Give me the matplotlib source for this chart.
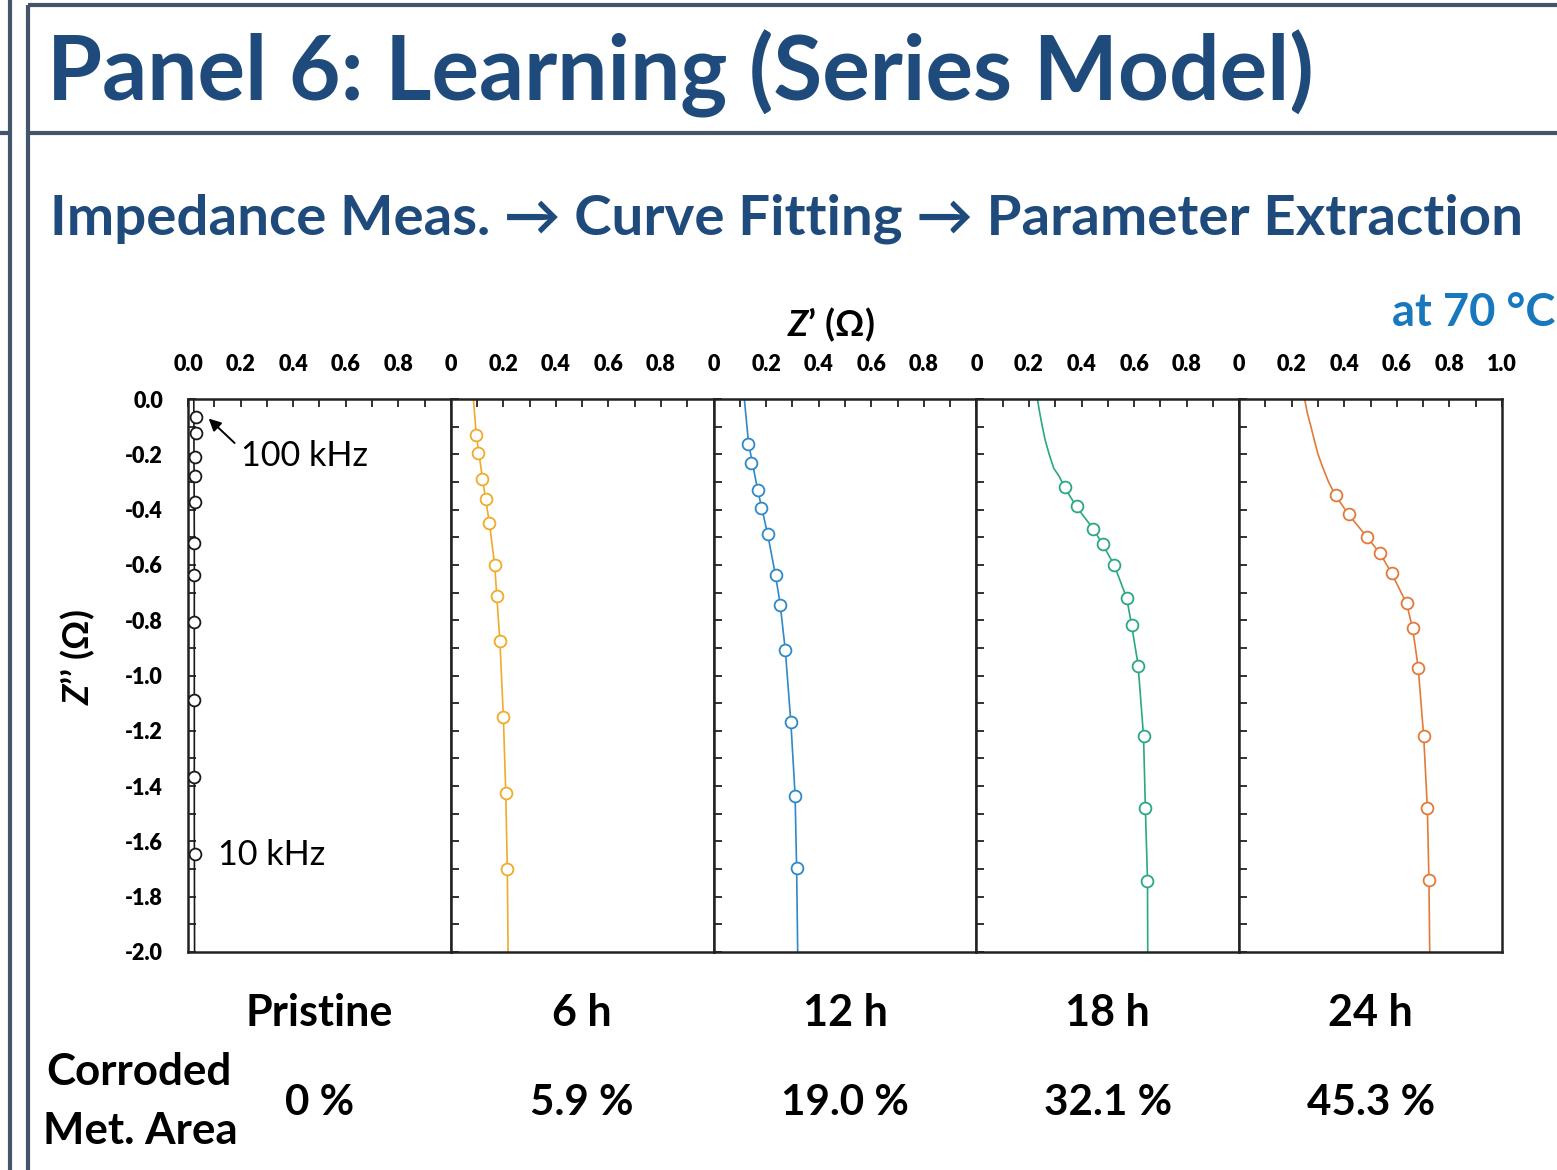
import matplotlib
matplotlib.use("Agg")
import matplotlib.pyplot as plt
from matplotlib.lines import Line2D
from matplotlib.ticker import MultipleLocator, FixedLocator, FixedFormatter

plt.rcParams['font.family'] = ['Lato', 'DejaVu Sans']
plt.rcParams['mathtext.fontset'] = 'custom'
plt.rcParams['mathtext.it'] = 'Lato:italic:bold'
plt.rcParams['mathtext.rm'] = 'Lato:bold'
plt.rcParams['mathtext.bf'] = 'Lato:bold'

# ---- data ----
samples  = ["Pristine", "6 h", "12 h", "18 h", "24 h"]
corroded = ["0 %", "5.9 %", "19.0 %", "32.1 %", "45.3 %"]
colors   = ["#1a1a1a", "#F0AA2C", "#2F88C8", "#2AA784", "#E27A3A"]

# measured points (Z', Z'')
pristine_re = [0.030, 0.032, 0.028, 0.025, 0.025, 0.023, 0.024, 0.022, 0.022, 0.023, 0.026]
pristine_im = [-0.064, -0.124, -0.211, -0.278, -0.371, -0.520, -0.637, -0.808, -1.089, -1.368, -1.647]
h6_re  = [0.095, 0.104, 0.120, 0.133, 0.146, 0.167, 0.175, 0.186, 0.200, 0.209, 0.215]
h6_im  = [-0.129, -0.197, -0.291, -0.360, -0.450, -0.599, -0.713, -0.876, -1.150, -1.424, -1.699]
h12_re = [0.132, 0.142, 0.168, 0.180, 0.206, 0.236, 0.253, 0.273, 0.294, 0.310, 0.316]
h12_im = [-0.164, -0.233, -0.329, -0.394, -0.490, -0.637, -0.744, -0.907, -1.169, -1.434, -1.697]
h18_re = [0.336, 0.381, 0.445, 0.483, 0.524, 0.572, 0.591, 0.615, 0.636, 0.643, 0.651]
h18_im = [-0.320, -0.387, -0.470, -0.526, -0.601, -0.721, -0.816, -0.964, -1.217, -1.481, -1.744]
h24_re = [0.367, 0.418, 0.487, 0.537, 0.580, 0.637, 0.660, 0.681, 0.702, 0.716, 0.722]
h24_im = [-0.348, -0.417, -0.500, -0.556, -0.629, -0.738, -0.829, -0.972, -1.219, -1.478, -1.741]

# fitted curves
pristine_fit_re = [0.022, 0.024, 0.024, 0.024, 0.025]
pristine_fit_im = [0.0, -0.5, -1.0, -1.5, -2.0]
h6_fit_re  = [0.086, 0.097, 0.121, 0.147, 0.167, 0.187, 0.200, 0.209, 0.215, 0.218]
h6_fit_im  = [0.0, -0.13, -0.29, -0.45, -0.60, -0.88, -1.15, -1.42, -1.70, -2.0]
h12_fit_re = [0.117, 0.133, 0.168, 0.206, 0.236, 0.253, 0.273, 0.294, 0.310, 0.316, 0.320]
h12_fit_im = [0.0, -0.16, -0.33, -0.49, -0.64, -0.74, -0.91, -1.17, -1.43, -1.70, -2.0]
h18_fit_re = [0.232, 0.241, 0.251, 0.262, 0.277, 0.294, 0.315, 0.336, 0.381, 0.445, 0.483, 0.524,
              0.572, 0.591, 0.615, 0.636, 0.643, 0.651, 0.652]
h18_fit_im = [0.0, -0.05, -0.10, -0.15, -0.20, -0.25, -0.28, -0.32, -0.39, -0.47, -0.53, -0.60,
              -0.72, -0.82, -0.96, -1.22, -1.48, -1.74, -2.0]
h24_fit_re = [0.249, 0.259, 0.273, 0.286, 0.300, 0.319, 0.340, 0.367, 0.418, 0.487, 0.537, 0.580,
              0.637, 0.660, 0.681, 0.702, 0.716, 0.722, 0.725]
h24_fit_im = [0.0, -0.05, -0.10, -0.15, -0.20, -0.25, -0.30, -0.35, -0.42, -0.50, -0.56, -0.63,
              -0.74, -0.83, -0.97, -1.22, -1.48, -1.74, -2.0]

meas = [(pristine_re, pristine_im), (h6_re, h6_im), (h12_re, h12_im), (h18_re, h18_im), (h24_re, h24_im)]
fits = [(pristine_fit_re, pristine_fit_im), (h6_fit_re, h6_fit_im), (h12_fit_re, h12_fit_im),
        (h18_fit_re, h18_fit_im), (h24_fit_re, h24_fit_im)]

x_ticks = [0.0, 0.2, 0.4, 0.6, 0.8]
y_ticks = [0.0, -0.2, -0.4, -0.6, -0.8, -1.0, -1.2, -1.4, -1.6, -1.8, -2.0]

W, H = 1557, 1170
fig = plt.figure(figsize=(W / 100, H / 100), dpi=100)
fig.patch.set_facecolor("white")

def fx(x): return x / W
def fy(y): return 1 - y / H

NAVY = "#1F4A7C"
FRAME = "#44546A"

# frame lines
for (x0, y0, x1, y1) in [(10, 0, 10, H), (0, 133, 10, 133), (28, 5, 28, H), (28, 5, W, 5), (28, 133, W, 133)]:
    fig.add_artist(Line2D([fx(x0), fx(x1)], [fy(y0), fy(y1)], transform=fig.transFigure,
                          color=FRAME, lw=3.0, solid_capstyle="butt"))

r = fig.canvas.get_renderer()
def fit_width(t, target):
    w = t.get_window_extent(r).width
    t.set_fontsize(t.get_fontsize() * target / w)
    return t.get_fontsize()

title = fig.text(fx(47), fy(100), "Panel 6: Learning (Series Model)", fontsize=60, fontweight="bold",
                 color=NAVY, ha="left", va="baseline")
fit_width(title, 1268)
sub = fig.text(fx(50), fy(234), "Impedance Meas. \u2192 Curve Fitting \u2192 Parameter Extraction",
               fontsize=36, fontweight="bold", color=NAVY, ha="left", va="baseline")
fit_width(sub, 1470)
temp = fig.text(fx(1555), fy(326), "at 70 \u00b0C", fontsize=30, fontweight="bold", color="#1878BD",
                ha="right", va="baseline")
fit_width(temp, 163)

# panels
left0, top, bottom = 188, 399, 952
pw = (1502 - 188) / 5
axes = []
for i in range(5):
    ax = fig.add_axes([fx(left0 + i * pw), fy(bottom), pw / W, (bottom - top) / H])
    fr, fi = fits[i]
    mr, mi = meas[i]
    ax.plot(fr, fi, color=colors[i], lw=1.2, zorder=2)
    ax.plot(mr, mi, ls="none", marker="o", ms=8.5, mfc="white", mec=colors[i], mew=1.3, zorder=3)
    ax.set_xlim(0, 1.0)
    ax.set_ylim(-2.0, 0.0)
    ax.xaxis.tick_top()
    ticks_x = x_ticks + ([1.0] if i == 4 else [])
    labels_x = [("0.0" if i == 0 else "0") if v == 0 else f"{v:.1f}" for v in ticks_x]
    ax.xaxis.set_major_locator(FixedLocator(ticks_x))
    ax.xaxis.set_major_formatter(FixedFormatter(labels_x))
    ax.xaxis.set_minor_locator(MultipleLocator(0.1))
    ax.yaxis.set_major_locator(FixedLocator(y_ticks))
    ax.yaxis.set_minor_locator(MultipleLocator(0.1))
    if i == 0:
        ax.yaxis.set_major_formatter(FixedFormatter([f"{v:.1f}" for v in y_ticks]))
    else:
        ax.set_yticklabels([])
    ax.tick_params(axis="both", which="both", direction="in", length=6, width=1.3, color="#222222")
    ax.tick_params(axis="x", which="both", top=True, bottom=False, labeltop=True, labelbottom=False, pad=17)
    ax.tick_params(axis="y", which="both", left=True, right=False, pad=18)
    for lab in ax.get_xticklabels() + ax.get_yticklabels():
        lab.set_fontweight("heavy")
        lab.set_fontsize(15.5)
    for s in ax.spines.values():
        s.set_linewidth(1.8)
        s.set_color("#222222")
    axes.append(ax)

# annotations in the pristine panel
ax0 = axes[0]
ax0.annotate("", xy=(0.071, -0.064), xytext=(0.185, -0.166),
             arrowprops=dict(arrowstyle="-|>", color="black", lw=1.4, mutation_scale=18))
t100 = ax0.text(0.20, -0.242, "100 kHz", fontsize=22, ha="left", va="baseline", color="black")
s100 = fit_width(t100, 127)
ax0.text(0.115, -1.685, "10 kHz", fontsize=s100, ha="left", va="baseline", color="black")

# axis titles
zt = fig.text(fx(831), fy(336), "$Z$\u2019 (\u03a9)", fontsize=26, fontweight="bold", ha="center", va="baseline")
zy = fig.text(fx(78), fy(657), "$Z$\u2019\u2019 (\u03a9)", fontsize=26, fontweight="bold", ha="center",
              va="center", rotation=90)

# sample labels under panels
centers = [left0 + (i + 0.5) * pw for i in range(5)]
lab_objs = []
for i, s in enumerate(samples):
    lab_objs.append(fig.text(fx(centers[i]), fy(1026), s, fontsize=28, fontweight="bold",
                             ha="center", va="baseline"))
sz = fit_width(lab_objs[0], 147)
for t in lab_objs[1:]:
    t.set_fontsize(sz)

pct_objs = []
for i, s in enumerate(corroded):
    pct_objs.append(fig.text(fx(centers[i]), fy(1115), s, fontsize=28, fontweight="bold",
                             ha="center", va="baseline"))
sz2 = fit_width(pct_objs[2], 128)
for t in pct_objs:
    t.set_fontsize(sz2)

c1 = fig.text(fx(139), fy(1085), "Corroded", fontsize=28, fontweight="bold", ha="center", va="baseline")
c2 = fig.text(fx(140), fy(1144), "Met. Area", fontsize=28, fontweight="bold", ha="center", va="baseline")
sz3 = fit_width(c2, 195)
c1.set_fontsize(sz3)

fig.savefig("out.png", dpi=100, facecolor="white")
